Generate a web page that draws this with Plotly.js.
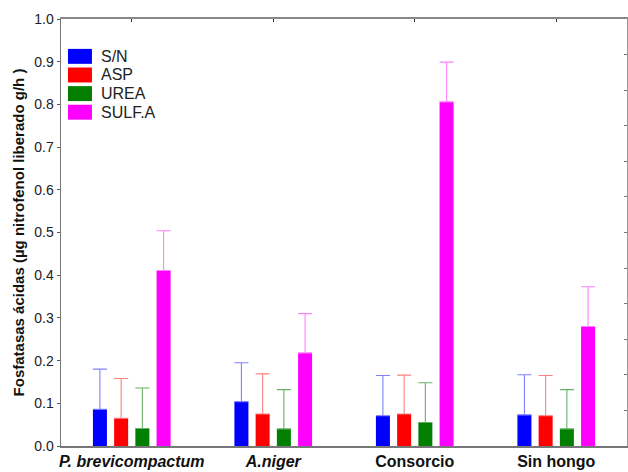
<!DOCTYPE html>
<html><head><meta charset="utf-8">
<script src="https://cdn.plot.ly/plotly-3.0.1.min.js"></script>
<style>html,body{margin:0;padding:0;background:#fff}</style>
</head><body><div id="chart" style="width:628px;height:472px"></div>
<script>
const categories = ['<b><i>P. brevicompactum</i></b>', '<b><i>A.niger</i></b>', '<b>Consorcio</b>', '<b>Sin hongo</b>'];
const seriesNames = ['S/N', 'ASP', 'UREA', 'SULF.A'];
const sn     = [0.086, 0.104, 0.071, 0.073];
const asp    = [0.065, 0.075, 0.075, 0.071];
const urea   = [0.041, 0.040, 0.055, 0.040];
const sulfa  = [0.411, 0.218, 0.806, 0.280];
const snErr    = [0.094, 0.091, 0.094, 0.094];
const aspErr   = [0.093, 0.094, 0.091, 0.094];
const ureaErr  = [0.095, 0.092, 0.093, 0.092];
const sulfaErr = [0.093, 0.092, 0.093, 0.093];

const colors = ['#0000ff', '#ff0000', '#007f00', '#ff00ff'];
const errColors = ['#8080ff', '#ff8080', '#66b266', '#ff80ff'];
const vals = [sn, asp, urea, sulfa];
const errs = [snErr, aspErr, ureaErr, sulfaErr];

const xIdx = categories.map((c, i) => i);
const traces = seriesNames.map((name, k) => ({
  type: 'bar', name: name, x: xIdx, y: vals[k],
  marker: {color: colors[k], line: {width: 0}},
  error_y: {type: 'data', array: errs[k], symmetric: false, arrayminus: errs[k].map(() => 0),
            color: errColors[k], thickness: 1.1, width: 7}
}));

// hand-drawn legend (boxes + labels) in paper coordinates
const shapes = [];
const annotations = [];
seriesNames.forEach((name, k) => {
  const top = 0.930 - k * 0.0436;
  shapes.push({type: 'rect', xref: 'paper', yref: 'paper', x0: 0.0123, x1: 0.0547, y0: top - 0.035, y1: top,
               fillcolor: colors[k], line: {width: 0}});
  annotations.push({xref: 'paper', yref: 'paper', x: 0.068, y: top - 0.0175, xanchor: 'left', yanchor: 'middle',
                    text: name, showarrow: false, font: {size: 16, color: '#222'}});
});

const layout = {
  width: 628, height: 472,
  margin: {l: 61, r: 1, t: 19, b: 26},
  paper_bgcolor: '#fff', plot_bgcolor: '#fff',
  font: {family: 'Liberation Sans, Arial, sans-serif', size: 14, color: '#222'},
  barmode: 'group', bargap: 0.4, bargroupgap: 0.34,
  showlegend: false,
  shapes: shapes, annotations: annotations,
  xaxis: {type: 'linear', range: [-0.5, 3.5], tickvals: xIdx, ticktext: categories,
          showgrid: false, zeroline: false, showline: true, linecolor: '#777', linewidth: 1.5,
          ticks: '', tickfont: {size: 16, color: '#111'}, mirror: false},
  xaxis2: {overlaying: 'x', side: 'top', range: [-0.5, 3.5], tickvals: xIdx, showticklabels: false,
           showgrid: false, zeroline: false, showline: true, linecolor: '#888', linewidth: 2,
           ticks: 'inside', ticklen: 3, tickcolor: '#333', anchor: 'y'},
  yaxis: {range: [0, 1], dtick: 0.1, tickformat: '.1f', showgrid: false, zeroline: false,
          showline: true, linecolor: '#777', linewidth: 1.5, ticks: 'outside', ticklen: 3, tickcolor: '#555',
          tickfont: {size: 14, color: '#222'},
          title: {text: '<b>Fosfatasas ácidas (µg nitrofenol liberado g/h )</b>', font: {size: 15, color: '#111'}, standoff: 6}},
  yaxis2: {overlaying: 'y', side: 'right', range: [0, 1], dtick: 1/12, showticklabels: false,
           showgrid: false, zeroline: false, showline: true, linecolor: '#999', linewidth: 1,
           ticks: 'inside', ticklen: 3, tickcolor: '#777', anchor: 'x'}
};

traces.push({type: 'scatter', x: [0], y: [0], xaxis: 'x2', yaxis: 'y2', mode: 'markers',
             marker: {opacity: 0}, showlegend: false, hoverinfo: 'skip'});

Plotly.newPlot('chart', traces, layout, {displayModeBar: false, staticPlot: true});
</script></body></html>
